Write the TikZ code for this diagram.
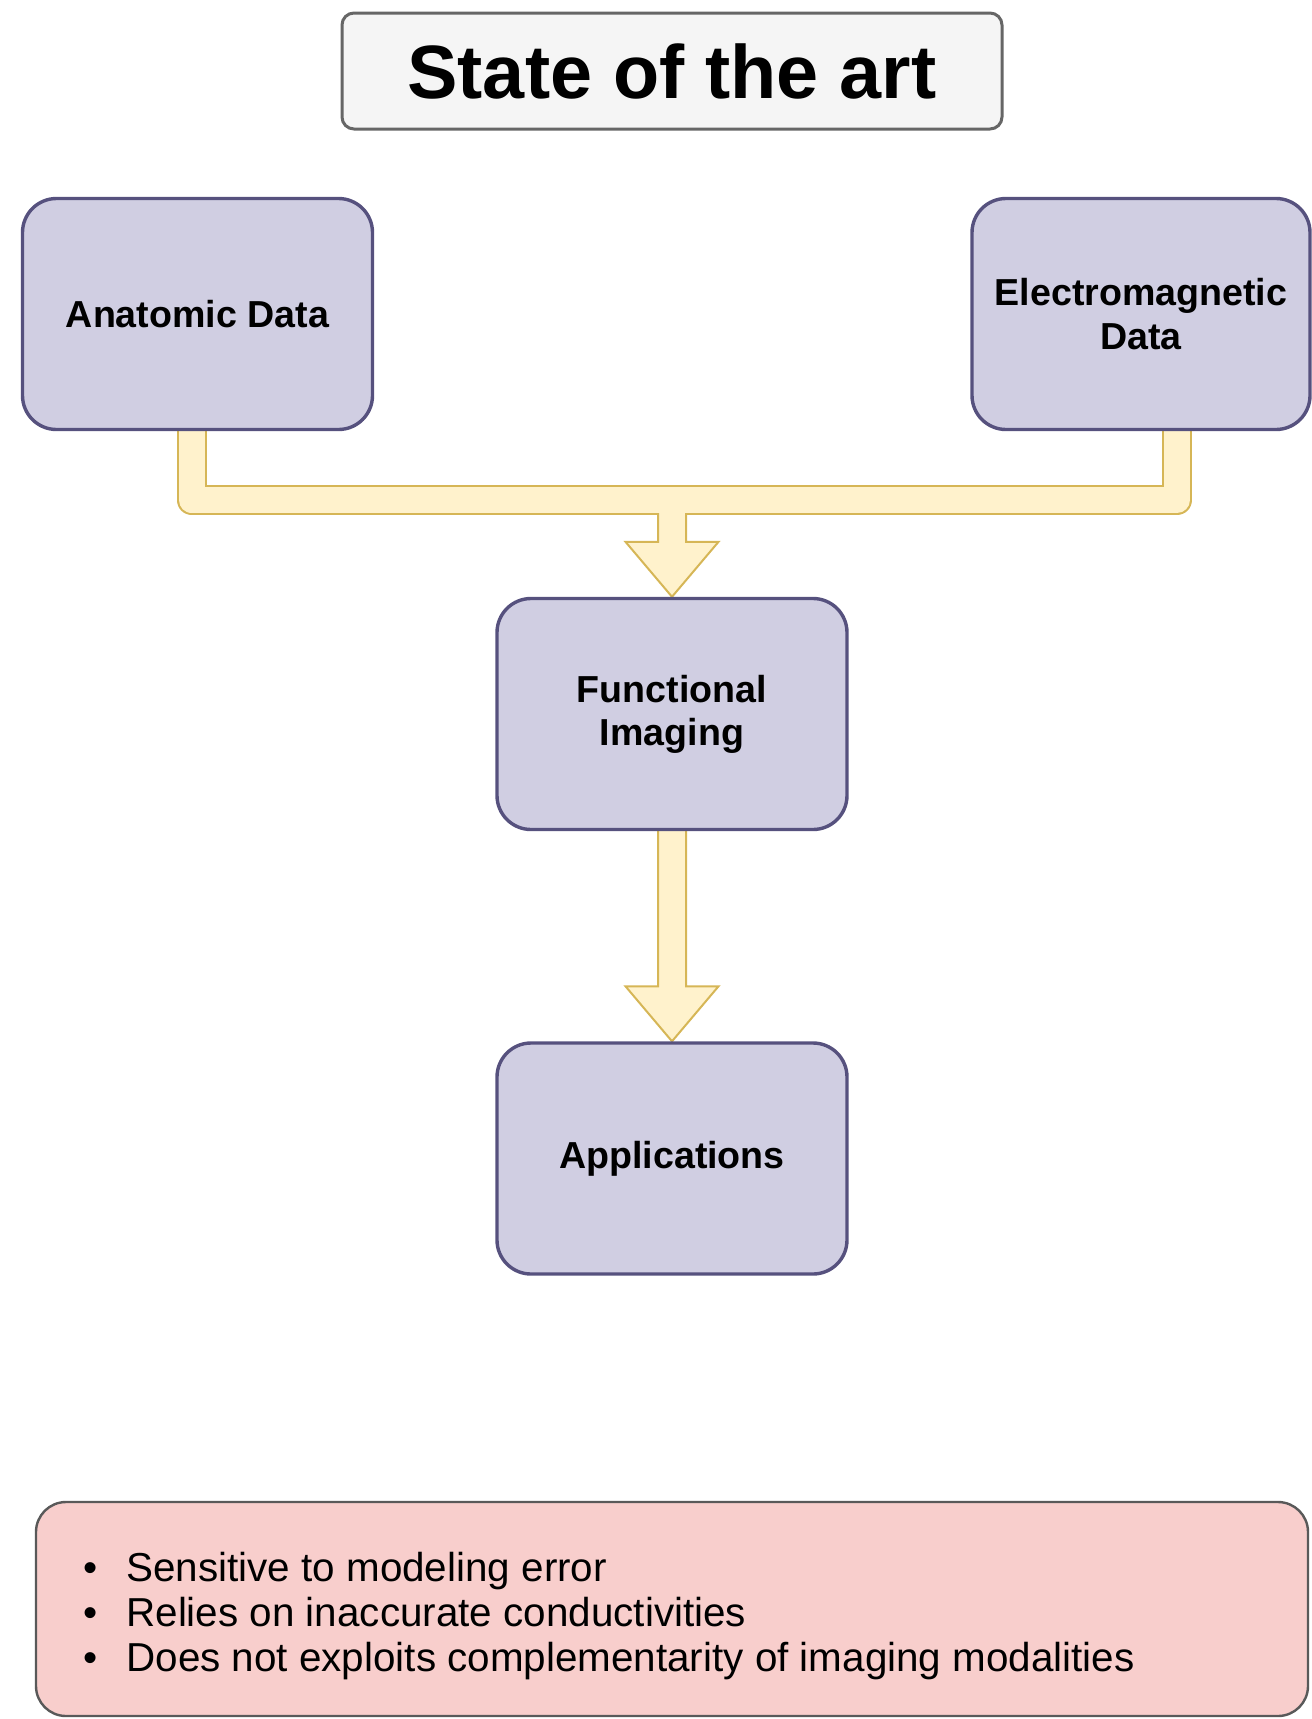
\documentclass[tikz,border=0pt]{standalone}
\usepackage{fontspec}
\setmainfont{Liberation Sans}
\usetikzlibrary{calc,backgrounds}

\definecolor{boxfill}{HTML}{D0CEE2}
\definecolor{boxline}{HTML}{56517E}
\definecolor{flowfill}{HTML}{FFF2CC}
\definecolor{flowline}{HTML}{D6B656}
\definecolor{titlefill}{HTML}{F5F5F5}
\definecolor{titleline}{HTML}{666666}
\definecolor{notefill}{HTML}{F8CECC}
\definecolor{noteline}{HTML}{595959}

\begin{document}
\begin{tikzpicture}[x=0.5pt,y=-0.5pt,
        block/.style={draw=boxline, fill=boxfill, line width=1.7pt, rounded corners=17pt,
            minimum width=175pt, minimum height=115.5pt, inner sep=0pt, align=center,
            font=\fontsize{18.8}{21.6}\selectfont\bfseries},
        flowborder/.style={draw=flowline, line width=15pt, line join=round},
        flowinner/.style={draw=flowfill, line width=13pt, line join=round},
        flowhead/.style={draw=flowline, fill=flowfill, line width=1pt, line join=miter}]

    \useasboundingbox (0,0) rectangle (1312,1719);

    %Title
    \node[draw=titleline, fill=titlefill, line width=1.5pt, rounded corners=6pt,
        minimum width=330pt, minimum height=58pt, inner sep=0pt,
        font=\fontsize{37.8}{40}\selectfont\bfseries] (title) at (672,71) {\raisebox{-2.5pt}{State of the art}};

    %Data
    \node[block] (anat) at (197.5,314) {Anatomic Data};
    \node[block, minimum width=169pt] (em) at (1141,314) {Electromagnetic\\Data};

    %Imaging
    \node[block] (func) at (672,714) {Functional\\Imaging};
    \node[block] (app) at (672,1158.5) {Applications};

    %Notes
    \node[draw=noteline, fill=notefill, line width=1.2pt, rounded corners=15pt,
        minimum width=636pt, minimum height=107pt] (note) at (672,1609) {};
    \node[anchor=west, inner sep=0pt, align=left, font=\fontsize{20.2}{22.6}\selectfont] (notetext) at (83,1616)
        {\makebox[21.5pt][l]{•}Sensitive to modeling error\\
         \makebox[21.5pt][l]{•}Relies on inaccurate conductivities\\
         \makebox[21.5pt][l]{•}Does not exploits complementarity of imaging modalities};

    \begin{scope}[on background layer]
        \coordinate (bar) at (672,500);
        \draw[flowborder] ($(anat.south)+(-6,0)$) |- (bar) -| ($(em.south)+(36,0)$);
        \draw[flowhead] ($(bar)+(-14,0)$) -- ($(func.north)+(-14,-55)$) -- ($(func.north)+(-46.5,-55)$)
            -- (func.north) -- ($(func.north)+(46.5,-55)$) -- ($(func.north)+(14,-55)$) -- ($(bar)+(14,0)$);
        \draw[flowinner] ($(anat.south)+(-6,0)$) |- (bar) -| ($(em.south)+(36,0)$);

        \draw[flowhead] ($(func.south)+(-14,0)$) -- ($(app.north)+(-14,-55)$) -- ($(app.north)+(-46.5,-55)$)
            -- (app.north) -- ($(app.north)+(46.5,-55)$) -- ($(app.north)+(14,-55)$) -- ($(func.south)+(14,0)$);
    \end{scope}
\end{tikzpicture}
\end{document}
